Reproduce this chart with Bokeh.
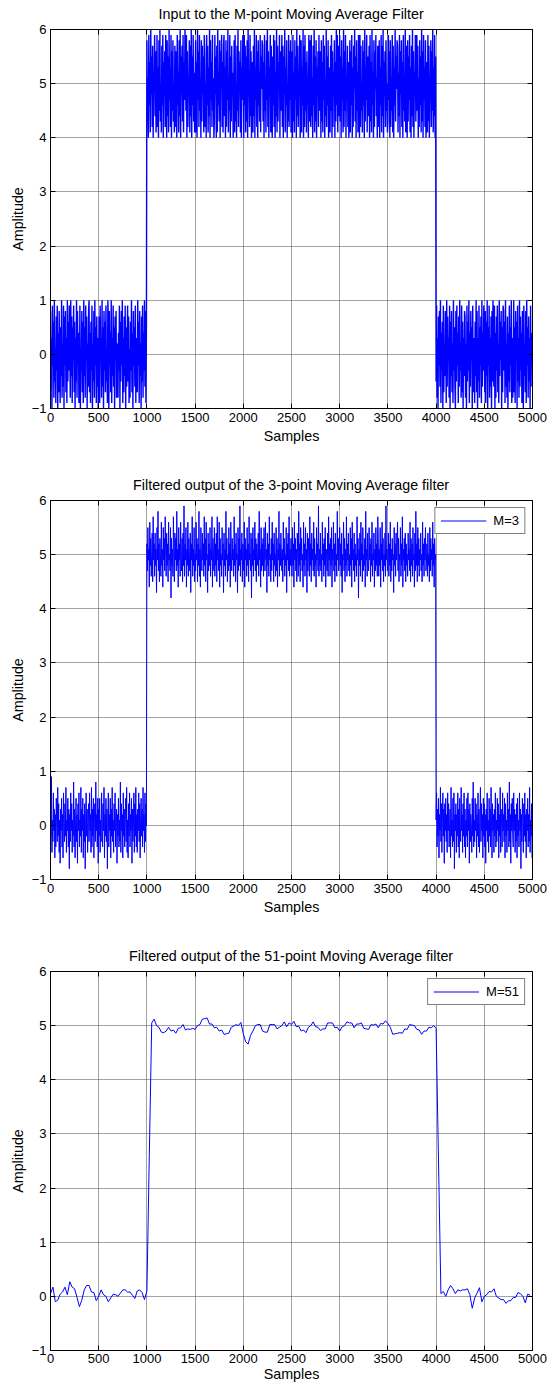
from bokeh.plotting import figure
from bokeh.layouts import column
from bokeh.models import LinearAxis, FixedTicker, Range1d
from bokeh.embed import file_html
from bokeh.resources import INLINE

FONT = "Liberation Sans"

x_ticks = [0, 500, 1000, 1500, 2000, 2500, 3000, 3500, 4000, 4500, 5000]
y_ticks = [-1, 0, 1, 2, 3, 4, 5, 6]
titles = ["Input to the M-point Moving Average Filter",
          "Filtered output of the 3-point Moving Average filter",
          "Filtered output of the 51-point Moving Average filter"]
legend_labels = [None, "M=3", "M=51"]

# ---- Input signal (read every 5 samples) ----
in_low1 = [0.8, -0.6, 0.3, -1.0, 0.9, -0.2, 0.6, -0.8, 1.0, -0.5, 0.1, -0.9, 0.7, -0.3, 0.9, -1.0, 0.4, -0.7, 0.8, -0.1,
           -0.9, 0.5, -0.4, 1.0, -0.8, 0.2, -0.6, 0.9, -1.0, 0.7, -0.2, 0.8, -0.7, 0.3, -0.9, 1.0, -0.5, 0.6, -0.3, 0.9,
           0.2, -0.8, 1.0, -0.4, 0.7, -0.9, 0.5, -0.1, 0.9, -0.7, 0.6, -1.0, 0.3, -0.5, 1.0, -0.8, 0.8, -0.2, 0.4, -0.9,
           -0.6, 0.9, -1.0, 0.1, -0.3, 0.8, -0.7, 0.6, -0.9, 1.0, -0.4, 0.5, -0.8, 0.9, -0.1, 0.7, -1.0, 0.2, -0.6, 0.8,
           1.0, -0.7, 0.4, -0.9, 0.6, -0.3, 0.9, -1.0, 0.2, -0.5, 0.8, -0.8, 1.0, -0.2, 0.5, -0.9, 0.7, -0.6, 0.3, -1.0,
           -0.4, 0.7, -0.9, 0.9, -0.1, 0.3, -0.8, 1.0, -0.6, 0.5, -1.0, 0.8, -0.3, 0.6, -0.7, 0.9, -0.5, 0.1, -0.9, 1.0,
           0.6, -1.0, 0.8, -0.2, 0.4, -0.7, 1.0, -0.9, 0.3, -0.4, 0.9, -0.6, 0.5, -1.0, 0.7, -0.1, 0.8, -0.8, 0.2, -0.5,
           -0.8, 0.4, -0.3, 0.9, -1.0, 0.6, -0.5, 0.8, -0.2, 1.0, -0.9, 0.3, -0.7, 0.7, -0.4, 0.9, -1.0, 0.5, -0.6, 0.2,
           0.9, -0.5, 0.7, -0.9, 0.1, -0.8, 0.6, -0.3, 1.0, -0.7, 0.4, -1.0, 0.8, -0.2, 0.5, -0.6, 0.9, -0.9, 0.3, -0.4,
           -0.7, 1.0, -0.2, 0.6, -0.9, 0.8, -0.4, 0.2, -1.0, 0.7, -0.5, 0.9, -0.8, 0.4, -0.3, 1.0, -0.6, 0.8, -0.9, 0.5]
in_high = [5.8, 4.3, 5.1, 4.0, 5.9, 4.6, 5.4, 4.1, 6.0, 4.8, 5.5, 4.2, 5.7, 4.0, 5.2, 4.9, 5.9, 4.4, 5.6, 4.1,
           4.7, 5.9, 4.2, 5.3, 4.0, 5.8, 4.5, 6.0, 4.3, 5.0, 4.1, 5.7, 4.6, 5.9, 4.0, 5.4, 4.8, 5.6, 4.2, 5.9,
           5.1, 4.0, 5.8, 4.4, 5.5, 4.1, 6.0, 4.7, 5.3, 4.2, 5.9, 4.0, 5.6, 4.5, 5.8, 4.3, 5.0, 4.1, 5.7, 4.9,
           4.2, 5.6, 4.0, 5.9, 4.6, 5.2, 4.1, 5.8, 4.4, 6.0, 4.0, 5.5, 4.8, 5.7, 4.3, 5.9, 4.1, 5.4, 4.7, 6.0,
           5.3, 4.5, 5.9, 4.0, 5.6, 4.2, 5.1, 4.8, 5.8, 4.1, 5.7, 4.4, 6.0, 4.0, 5.5, 4.6, 5.9, 4.3, 5.2, 4.1,
           4.9, 5.8, 4.1, 5.4, 4.0, 6.0, 4.7, 5.6, 4.2, 5.9, 4.5, 5.1, 4.0, 5.8, 4.3, 5.7, 4.8, 5.5, 4.1, 5.9,
           5.6, 4.2, 5.0, 4.0, 5.9, 4.6, 5.7, 4.1, 5.3, 4.4, 6.0, 4.0, 5.8, 4.7, 5.4, 4.2, 5.9, 4.5, 5.1, 4.0,
           4.3, 5.9, 4.8, 5.5, 4.0, 5.7, 4.1, 6.0, 4.6, 5.2, 4.3, 5.8, 4.0, 5.6, 4.9, 5.9, 4.2, 5.4, 4.1, 5.7,
           5.9, 4.4, 5.3, 4.0, 5.8, 4.2, 5.6, 4.7, 6.0, 4.1, 5.1, 4.5, 5.9, 4.0, 5.5, 4.3, 5.7, 4.8, 5.2, 4.0,
           4.6, 5.8, 4.1, 5.9, 4.3, 5.0, 4.0, 5.7, 4.5, 6.0, 4.2, 5.6, 4.9, 5.4, 4.1, 5.8, 4.0, 5.3, 4.7, 5.9,
           5.2, 4.0, 5.9, 4.6, 5.7, 4.1, 5.5, 4.3, 5.8, 4.0, 6.0, 4.8, 5.1, 4.2, 5.9, 4.4, 5.6, 4.0, 5.4, 4.5,
           4.1, 5.7, 4.4, 6.0, 4.0, 5.3, 4.7, 5.9, 4.2, 5.6, 4.0, 5.8, 4.6, 5.2, 4.3, 5.9, 4.1, 5.5, 4.9, 5.8,
           5.7, 4.3, 5.4, 4.0, 5.9, 4.5, 5.1, 4.1, 5.8, 4.7, 6.0, 4.2, 5.6, 4.0, 5.3, 4.8, 5.9, 4.1, 5.7, 4.4,
           4.0, 5.5, 4.6, 5.9, 4.2, 5.8, 4.0, 5.2, 4.4, 6.0, 4.1, 5.7, 4.3, 5.4, 4.9, 5.9, 4.0, 5.6, 4.5, 5.1,
           5.9, 4.2, 5.7, 4.0, 5.5, 4.8, 6.0, 4.1, 5.3, 4.6, 5.8, 4.0, 5.0, 4.3, 5.9, 4.2, 5.6, 4.7, 5.8, 4.1,
           4.5, 5.6, 4.0, 5.9, 4.3, 5.2, 4.1, 5.8, 4.7, 5.5, 4.0, 6.0, 4.4, 5.7, 4.2, 5.1, 4.9, 5.9, 4.0, 5.4,
           5.8, 4.1, 5.3, 4.6, 6.0, 4.0, 5.7, 4.2, 5.9, 4.5, 5.4, 4.1, 5.6, 4.8, 5.0, 4.0, 5.9, 4.3, 5.8, 4.7,
           4.2, 5.9, 4.4, 5.1, 4.0, 5.7, 4.6, 6.0, 4.1, 5.5, 4.3, 5.8, 4.0, 5.3, 4.9, 5.6, 4.2, 5.9, 4.5, 5.2,
           5.6, 4.0, 5.8, 4.3, 5.4, 4.1, 5.9, 4.7, 5.7, 4.0, 5.1, 4.4, 6.0, 4.2, 5.5, 4.6, 5.8, 4.0, 5.3, 4.8,
           4.1, 5.7, 4.5, 5.9, 4.0, 5.6, 4.2, 5.2, 4.8, 5.8, 4.0, 5.4, 4.3, 6.0, 4.6, 5.9, 4.1, 5.7, 4.4, 5.0,
           5.9, 4.3, 5.5, 4.0, 5.8, 4.7, 5.3, 4.1, 6.0, 4.2, 5.6, 4.5, 5.9, 4.0, 5.1, 4.8, 5.7, 4.2, 5.4, 4.0,
           4.4, 5.8, 4.1, 5.6, 4.6, 5.9, 4.0, 5.3, 4.2, 5.7, 4.9, 6.0, 4.3, 5.5, 4.0, 5.8, 4.5, 5.2, 4.1, 5.9,
           5.4, 4.0, 5.9, 4.2, 5.7, 4.5, 5.0, 4.1, 5.8, 4.6, 5.6, 4.0, 6.0, 4.3, 5.3, 4.7, 5.9, 4.1, 5.5, 4.4,
           4.8, 5.7, 4.0, 5.9, 4.3, 5.4, 4.1, 6.0, 4.6, 5.2, 4.0, 5.8, 4.2, 5.6, 4.9, 5.9, 4.4, 5.1, 4.0, 5.7,
           5.5, 4.2, 5.8, 4.0, 5.3, 4.6, 5.9, 4.1, 5.7, 4.4, 6.0, 4.0, 5.4, 4.8, 5.6, 4.2, 5.8, 4.5, 5.0, 4.1,
           4.3, 5.9, 4.7, 5.6, 4.0, 5.8, 4.2, 5.1, 4.5, 5.9, 4.1, 5.7, 4.0, 5.3, 4.6, 6.0, 4.3, 5.5, 4.9, 5.8,
           5.7, 4.1, 5.2, 4.4, 5.9, 4.0, 5.6, 4.8, 5.8, 4.2, 5.4, 4.0, 5.9, 4.5, 5.1, 4.3, 6.0, 4.1, 5.7, 4.6,
           4.0, 5.8, 4.3, 5.5, 4.7, 5.9, 4.1, 5.3, 4.0, 5.7, 4.4, 6.0, 4.2, 5.6, 4.0, 5.2, 4.8, 5.9, 4.3, 5.4,
           5.9, 4.5, 5.7, 4.0, 5.1, 4.2, 5.8, 4.6, 5.5, 4.1, 6.0, 4.3, 5.6, 4.0, 5.9, 4.7, 5.3, 4.2, 5.8, 4.0,
           4.6, 5.4, 4.1, 5.9, 4.3, 5.7, 4.0, 5.0, 4.8, 5.8, 4.2, 5.6, 4.5, 6.0, 4.1, 5.3, 4.4, 5.9, 4.0, 5.5]
in_low2 = [-0.5, 0.9, -0.8, 0.3, -1.0, 0.7, -0.2, 0.8, -0.6, 1.0, -0.9, 0.4, -0.3, 0.6, -1.0, 0.9, -0.7, 0.2, -0.4, 0.8,
           0.5, -0.9, 1.0, -0.6, 0.7, -0.1, 0.3, -0.8, 0.9, -1.0, 0.6, -0.4, 0.8, -0.7, 0.2, -0.9, 1.0, -0.3, 0.5, -0.6,
           -1.0, 0.8, -0.5, 0.9, -0.2, 0.4, -0.9, 0.7, -0.6, 1.0, -0.3, 0.1, -0.8, 0.9, -0.7, 0.6, -1.0, 0.3, -0.4, 0.8,
           0.7, -0.8, 0.2, -1.0, 0.9, -0.5, 0.6, -0.3, 1.0, -0.9, 0.4, -0.6, 0.8, -0.1, 0.5, -1.0, 0.9, -0.7, 0.3, -0.2,
           -0.9, 0.6, -0.4, 1.0, -0.7, 0.8, -1.0, 0.3, -0.5, 0.9, -0.8, 0.5, -0.2, 0.7, -0.9, 1.0, -0.6, 0.4, -0.3, 0.9,
           0.1, -0.7, 0.8, -0.9, 0.6, -0.4, 1.0, -1.0, 0.5, -0.2, 0.9, -0.8, 0.3, -0.6, 0.7, -1.0, 0.8, -0.5, 1.0, -0.3,
           -0.6, 0.9, -1.0, 0.4, -0.8, 0.7, -0.3, 0.9, -0.7, 0.2, -0.9, 1.0, -0.4, 0.6, -0.1, 0.8, -1.0, 0.5, -0.7, 0.9,
           0.8, -0.3, 0.6, -0.9, 1.0, -0.6, 0.2, -0.8, 0.7, -1.0, 0.4, -0.5, 0.9, -0.7, 0.5, -0.2, 1.0, -0.9, 0.3, -0.8,
           -0.4, 1.0, -0.7, 0.5, -0.9, 0.8, -0.1, 0.6, -1.0, 0.9, -0.5, 0.3, -0.8, 1.0, -0.6, 0.7, -0.3, 0.4, -0.9, 0.8,
           0.6, -1.0, 0.9, -0.4, 0.2, -0.7, 0.8, -0.9, 1.0, -0.2, 0.5, -0.8, 0.7, -0.5, 0.3, -1.0, 0.9, -0.6, 0.4, -0.1]

# ---- 3-point moving average output (read every 5 samples) ----
m3_low1 = [0.4, -0.2, 0.9, -0.5, 0.1, -0.3, 0.6, -0.1, 0.3, -0.6, 0.2, -0.4, 0.5, 0.0, -0.3, 0.7, -0.2, 0.4, -0.5, 0.1,
           -0.7, 0.3, -0.1, 0.5, -0.4, 0.2, -0.6, 0.6, 0.0, -0.3, 0.4, -0.2, 0.7, -0.5, 0.1, -0.1, 0.5, -0.4, 0.3, -0.8,
           0.2, -0.3, 0.6, -0.1, 0.4, -0.5, 0.1, -0.2, 0.8, -0.4, 0.3, -0.6, 0.0, 0.5, -0.3, 0.2, -0.7, 0.4, -0.1, 0.6,
           -0.4, 0.1, -0.2, 0.7, -0.5, 0.3, -0.1, 0.5, -0.6, 0.2, -0.3, 0.4, -0.8, 0.1, 0.6, -0.2, 0.3, -0.5, 0.0, 0.4,
           -0.3, 0.6, -0.1, 0.2, -0.5, 0.7, -0.4, 0.3, -0.2, 0.5, -0.6, 0.1, 0.4, -0.3, 0.8, -0.1, 0.2, -0.4, 0.5, -0.7,
           0.3, -0.2, 0.5, -0.5, 0.1, -0.3, 0.6, 0.0, -0.4, 0.4, -0.1, 0.7, -0.6, 0.2, -0.2, 0.5, -0.3, 0.3, -0.8, 0.1,
           0.6, -0.4, 0.2, -0.1, 0.5, -0.6, 0.3, -0.2, 0.7, -0.3, 0.1, -0.5, 0.4, -0.1, 0.6, -0.4, 0.0, 0.3, -0.7, 0.2,
           -0.2, 0.5, -0.4, 0.1, -0.3, 0.8, -0.5, 0.4, -0.1, 0.2, -0.6, 0.6, -0.2, 0.3, -0.4, 0.1, 0.5, -0.3, 0.7, -0.5,
           0.1, -0.6, 0.4, -0.2, 0.6, -0.4, 0.2, -0.1, 0.5, -0.7, 0.3, -0.3, 0.0, 0.6, -0.5, 0.4, -0.2, 0.7, -0.4, 0.2,
           -0.5, 0.3, -0.1, 0.6, -0.3, 0.4, -0.6, 0.1, 0.5, -0.2, 0.3, -0.4, 0.7, -0.1, 0.2, -0.5, 0.6, -0.3, 0.4, 0.0]
m3_high = [5.2, 4.7, 5.5, 4.9, 5.1, 4.4, 5.6, 4.8, 5.3, 4.6, 5.0, 5.4, 4.5, 5.7, 4.9, 5.2, 4.6, 5.4, 4.8, 5.1,
           4.3, 5.5, 4.9, 5.8, 4.7, 5.2, 4.5, 5.3, 5.0, 4.6, 5.6, 4.8, 5.1, 4.4, 5.5, 4.9, 5.3, 4.7, 5.7, 5.0,
           4.6, 5.4, 4.8, 5.2, 4.5, 5.6, 4.9, 5.0, 4.7, 5.5, 4.2, 5.3, 4.8, 5.1, 4.6, 5.7, 5.0, 4.5, 5.4, 4.9,
           5.3, 4.7, 5.8, 4.8, 5.1, 4.4, 5.5, 4.9, 5.2, 4.6, 5.6, 5.0, 4.7, 5.3, 4.5, 5.4, 4.8, 5.9, 4.6, 5.2,
           4.9, 5.5, 4.4, 5.1, 4.8, 5.6, 4.6, 5.3, 5.0, 4.7, 5.4, 4.3, 5.2, 4.9, 5.7, 4.6, 5.1, 4.8, 5.5, 4.5,
           5.0, 4.7, 5.6, 4.9, 5.3, 4.5, 5.2, 4.8, 5.8, 4.6, 5.1, 4.4, 5.5, 5.0, 4.7, 5.4, 4.9, 5.2, 4.6, 5.7,
           4.8, 5.3, 4.5, 5.6, 4.9, 5.0, 4.3, 5.4, 4.7, 5.2, 4.8, 5.5, 4.6, 5.1, 4.9, 5.7, 4.4, 5.3, 5.0, 4.7,
           5.5, 4.6, 5.2, 4.8, 5.4, 4.5, 5.7, 4.9, 5.1, 4.7, 5.6, 4.4, 5.3, 4.8, 5.0, 4.6, 5.5, 4.9, 5.2, 4.3,
           5.4, 4.8, 5.1, 4.6, 5.8, 4.9, 5.3, 4.5, 5.0, 4.7, 5.5, 4.8, 5.2, 4.4, 5.6, 5.0, 4.7, 5.3, 4.9, 5.1,
           4.6, 5.7, 4.8, 5.2, 4.5, 5.4, 4.9, 5.0, 4.3, 5.5, 4.7, 5.3, 4.8, 5.9, 4.6, 5.1, 4.9, 5.4, 4.5, 5.2,
           5.0, 4.7, 5.6, 4.4, 5.3, 4.9, 5.1, 4.6, 5.5, 4.8, 5.2, 4.5, 5.7, 4.9, 5.0, 4.7, 5.4, 4.2, 5.3, 4.8,
           5.5, 4.6, 5.1, 4.9, 5.6, 4.7, 5.3, 4.5, 5.2, 4.8, 5.0, 5.4, 4.6, 5.8, 4.9, 5.1, 4.4, 5.5, 4.7, 5.2,
           4.8, 5.3, 4.6, 5.5, 5.0, 4.7, 5.6, 4.9, 5.1, 4.3, 5.4, 4.8, 5.2, 4.6, 5.7, 4.9, 5.0, 4.5, 5.3, 4.7,
           5.6, 4.9, 5.2, 4.5, 5.4, 4.8, 5.0, 4.6, 5.5, 4.7, 5.3, 4.4, 5.1, 4.9, 5.8, 4.6, 5.2, 4.8, 5.4, 5.0,
           4.7, 5.1, 4.5, 5.6, 4.9, 5.3, 4.6, 5.0, 4.8, 5.5, 4.3, 5.2, 4.9, 5.4, 4.7, 5.7, 4.6, 5.1, 4.8, 5.3,
           5.0, 4.6, 5.5, 4.8, 5.2, 4.4, 5.6, 4.9, 5.3, 4.7, 5.1, 4.5, 5.4, 5.0, 4.6, 5.8, 4.8, 5.2, 4.5, 5.5,
           4.9, 5.3, 4.7, 5.0, 4.4, 5.6, 4.8, 5.2, 4.6, 5.5, 4.9, 5.1, 4.3, 5.4, 4.7, 5.3, 5.0, 4.6, 5.7, 4.8,
           5.2, 4.5, 5.4, 4.9, 5.1, 4.7, 5.6, 4.6, 5.3, 4.8, 5.0, 4.4, 5.5, 4.9, 5.2, 4.7, 5.9, 4.6, 5.1, 4.8,
           5.4, 4.7, 5.0, 4.5, 5.6, 4.9, 5.2, 4.6, 5.3, 4.8, 5.5, 4.4, 5.1, 5.0, 4.7, 5.4, 4.6, 5.7, 4.9, 5.2,
           4.6, 5.3, 4.8, 5.5, 4.4, 5.1, 4.9, 5.6, 4.7, 5.2, 4.5, 5.4, 4.8, 5.0, 4.6, 5.8, 4.9, 5.3, 4.7, 5.1,
           5.5, 4.8, 5.2, 4.6, 5.4, 4.3, 5.0, 4.9, 5.6, 4.7, 5.3, 4.5, 5.1, 4.8, 5.7, 4.6, 5.2, 4.9, 5.4, 4.7,
           5.0, 4.6, 5.5, 4.8, 5.3, 4.4, 5.6, 4.9, 5.1, 4.7, 5.4, 4.5, 5.2, 4.8, 5.0, 4.6, 5.7, 4.9, 5.3, 4.2,
           5.1, 4.8, 5.4, 4.6, 5.6, 4.9, 5.2, 4.5, 5.5, 4.7, 5.0, 4.8, 5.3, 4.4, 5.8, 4.9, 5.1, 4.6, 5.4, 4.8,
           4.7, 5.5, 4.9, 5.2, 4.5, 5.3, 4.8, 5.6, 4.6, 5.0, 4.9, 5.4, 4.4, 5.1, 4.7, 5.5, 4.8, 5.2, 4.6, 5.7,
           5.3, 4.6, 5.1, 4.8, 5.5, 4.4, 5.2, 4.9, 5.6, 4.7, 5.3, 4.5, 5.0, 4.8, 5.4, 4.6, 5.9, 4.9, 5.1, 4.7,
           4.9, 5.4, 4.6, 5.2, 4.8, 5.6, 4.5, 5.1, 4.7, 5.3, 4.9, 5.0, 4.3, 5.5, 4.8, 5.2, 4.6, 5.4, 4.9, 5.1,
           5.6, 4.7, 5.3, 4.5, 5.0, 4.9, 5.5, 4.6, 5.2, 4.8, 5.7, 4.4, 5.1, 4.9, 5.3, 4.7, 5.4, 4.5, 5.2, 4.8,
           5.0, 4.6, 5.4, 4.9, 5.1, 4.7, 5.6, 4.5, 5.3, 4.8, 5.2, 4.6, 5.5, 4.9, 5.0, 4.4, 5.4, 4.7, 5.8, 4.8,
           5.2, 4.5, 5.5, 4.8, 5.3, 4.6, 5.1, 4.9, 5.4, 4.7, 5.0, 4.5, 5.6, 4.8, 5.2, 4.6, 5.3, 4.9, 5.5, 4.7,
           4.9, 5.2, 4.6, 5.4, 4.8, 5.0, 4.5, 5.5, 4.7, 5.3, 4.9, 5.1, 4.6, 5.6, 4.8, 5.2, 4.4, 5.3, 4.9, 5.0]
m3_low2 = [0.1, 0.6, -0.4, 0.3, -0.2, 0.5, -0.6, 0.2, -0.1, 0.7, -0.3, 0.4, -0.5, 0.1, 0.6, -0.2, 0.3, -0.7, 0.4, -0.1,
           0.5, -0.3, 0.2, -0.5, 0.6, -0.1, 0.4, -0.4, 0.0, 0.3, -0.6, 0.7, -0.2, 0.1, -0.4, 0.5, -0.3, 0.6, -0.8, 0.2,
           -0.1, 0.4, -0.5, 0.2, -0.2, 0.6, -0.4, 0.3, -0.6, 0.5, 0.0, -0.3, 0.7, -0.1, 0.2, -0.5, 0.4, -0.2, 0.6, -0.4,
           0.3, -0.6, 0.1, -0.2, 0.5, -0.4, 0.6, -0.1, 0.3, -0.7, 0.4, -0.3, 0.2, 0.0, -0.5, 0.5, -0.2, 0.8, -0.4, 0.1,
           -0.3, 0.5, -0.1, 0.4, -0.6, 0.2, -0.2, 0.6, -0.4, 0.3, -0.5, 0.1, 0.7, -0.3, 0.4, -0.1, 0.2, -0.6, 0.5, -0.2,
           0.4, -0.4, 0.2, -0.7, 0.3, -0.1, 0.6, -0.3, 0.1, -0.5, 0.5, -0.2, 0.3, -0.4, 0.7, 0.0, -0.6, 0.4, -0.1, 0.2,
           -0.5, 0.3, -0.2, 0.6, -0.4, 0.1, -0.3, 0.5, -0.1, 0.4, -0.6, 0.2, -0.2, 0.7, -0.5, 0.3, 0.0, -0.4, 0.6, -0.1,
           0.2, -0.3, 0.5, -0.6, 0.4, -0.2, 0.1, -0.5, 0.6, -0.1, 0.3, -0.4, 0.8, -0.3, 0.2, -0.7, 0.4, -0.1, 0.5, -0.2,
           -0.4, 0.6, -0.1, 0.3, -0.5, 0.2, -0.3, 0.4, -0.6, 0.5, -0.2, 0.1, -0.4, 0.6, -0.1, 0.3, -0.8, 0.2, -0.3, 0.5,
           0.1, -0.5, 0.4, -0.2, 0.6, -0.3, 0.2, -0.6, 0.3, -0.1, 0.5, -0.4, 0.2, -0.3, 0.7, -0.5, 0.1, -0.2, 0.4, -0.6]

# ---- 51-point moving average output (read every 25 samples) ----
m51_low1 = [0.05, 0.17, -0.10, -0.07, 0.04, 0.08, 0.17, 0.03, 0.27, 0.17,
            0.14, -0.02, -0.19, -0.07, 0.12, 0.20, 0.20, 0.08, 0.07, -0.08,
            0.00, 0.12, 0.03, 0.00, -0.10, -0.03, 0.04, 0.03, 0.00, 0.06,
            0.12, 0.12, 0.08, 0.08, 0.02, -0.04, 0.10, 0.12, 0.07, -0.06]
m51_high = [0.10, 2.60, 5.05, 5.12, 5.00, 4.97, 4.88, 4.87, 4.90, 4.97,
            4.90, 4.92, 4.86, 4.95, 4.96, 5.02, 4.92, 4.94, 4.93, 4.95,
            4.93, 5.00, 5.02, 5.12, 5.13, 5.14, 5.03, 5.03, 4.96, 4.97,
            4.90, 4.92, 4.84, 4.85, 4.86, 4.97, 4.99, 5.02, 5.00, 5.06,
            4.85, 4.70, 4.66, 4.82, 4.90, 5.00, 5.02, 5.02, 4.90, 4.88,
            4.88, 5.02, 5.02, 5.02, 4.94, 4.97, 5.00, 5.07, 4.98, 5.05,
            5.02, 5.08, 4.98, 4.99, 4.90, 4.92, 4.87, 4.97, 5.00, 5.07,
            4.98, 4.97, 4.91, 4.94, 4.94, 5.05, 5.05, 5.05, 4.96, 4.97,
            4.90, 4.98, 5.00, 5.07, 5.05, 5.05, 4.96, 5.03, 5.03, 5.05,
            4.95, 4.94, 4.93, 5.02, 5.01, 5.03, 4.96, 5.04, 5.03, 5.09,
            5.04, 4.97, 4.84, 4.85, 4.86, 4.87, 4.86, 4.94, 4.93, 5.02,
            5.01, 5.00, 4.93, 4.92, 4.84, 4.90, 4.90, 4.97, 4.96, 5.00]
m51_low2 = [4.95, 2.50, 0.05, 0.09, 0.00, 0.12, 0.20, 0.14, 0.05, 0.12,
            0.10, 0.12, 0.12, 0.14, 0.03, -0.22, -0.03, 0.06, 0.16, -0.10,
            0.00, 0.03, 0.09, 0.08, 0.14, 0.00, -0.03, -0.06, -0.06, -0.13,
            -0.08, -0.08, -0.02, -0.02, 0.07, 0.05, 0.00, -0.12, 0.04, 0.02]


def sample_index(start, step, values):
    return [start + step * i for i in range(len(values))]


def series(step, low1, high, low2):
    xs = sample_index(0, step, low1) + sample_index(1000, step, high) + sample_index(4000, step, low2)
    return xs, low1 + high + low2


def style_axis(ax, ticks, show_labels):
    ax.ticker = FixedTicker(ticks=ticks)
    ax.axis_line_color = "black"
    ax.major_tick_line_color = "black"
    ax.major_tick_in = 5
    ax.major_tick_out = 0
    ax.minor_tick_line_color = None
    ax.major_label_text_font = FONT
    if show_labels:
        ax.major_label_text_color = "black"
        ax.major_label_text_font_size = "13px"
        ax.major_label_standoff = 4
    else:
        ax.major_label_text_color = None
        ax.major_label_text_font_size = "1px"
        ax.major_label_standoff = 0


def make_panel(title, xs, ys, label, bottom, xtick_standoff, xlabel_standoff, lw):
    p = figure(frame_width=482, frame_height=379,
               min_border_left=50, min_border_right=16, min_border_top=29,
               min_border_bottom=bottom,
               x_range=Range1d(0, 5000), y_range=Range1d(-1, 6),
               output_backend="svg", toolbar_location=None,
               background_fill_color="white", border_fill_color="white",
               outline_line_color="black", outline_line_width=1)
    p.title.text = title
    p.title.align = "center"
    p.title.vertical_align = "top"
    p.title.text_font = FONT
    p.title.text_font_size = "14.3px"
    p.title.text_font_style = "normal"
    p.title.text_color = "black"
    p.title.standoff = 11

    if label:
        p.line(xs, ys, line_color="#0000ff", line_width=lw, legend_label=label)
    else:
        p.line(xs, ys, line_color="#0000ff", line_width=lw)

    xa = p.below[0]
    ya = p.left[0]
    style_axis(xa, x_ticks, True)
    style_axis(ya, y_ticks, True)
    xa.major_label_standoff = xtick_standoff
    xa.axis_label = "Samples"
    ya.axis_label = "Amplitude"
    for ax in (xa, ya):
        ax.axis_label_text_font = FONT
        ax.axis_label_text_font_size = "14.3px"
        ax.axis_label_text_font_style = "normal"
        ax.axis_label_text_color = "black"
    xa.axis_label_standoff = xlabel_standoff
    ya.axis_label_standoff = 3

    # box ticks on the top and right edges (no labels)
    top = LinearAxis()
    right = LinearAxis()
    style_axis(top, x_ticks, False)
    style_axis(right, y_ticks, False)
    p.add_layout(top, "above")
    p.add_layout(right, "right")

    p.xgrid.ticker = FixedTicker(ticks=x_ticks)
    p.ygrid.ticker = FixedTicker(ticks=y_ticks)
    p.grid.grid_line_color = "#444444"
    p.grid.grid_line_dash = "1 1"
    p.grid.grid_line_width = 1

    if label:
        lg = p.legend[0]
        lg.location = "top_right"
        lg.margin = 7
        lg.padding = 5
        lg.spacing = 0
        lg.glyph_width = 46
        lg.glyph_height = 15
        lg.label_standoff = 7
        lg.label_text_font = FONT
        lg.label_text_font_size = "13px"
        lg.label_text_color = "black"
        lg.border_line_color = "black"
        lg.border_line_width = 1
        lg.background_fill_color = "white"
        lg.background_fill_alpha = 1
    return p


x1, y1 = series(5, in_low1, in_high, in_low2)
x2, y2 = series(5, m3_low1, m3_high, m3_low2)
x3, y3 = series(25, m51_low1, m51_high, m51_low2)

p1 = make_panel(titles[0], x1, y1, legend_labels[0], 63, 4, 3, 1.4)
p2 = make_panel(titles[1], x2, y2, legend_labels[1], 63, 4, 3, 1)
p3 = make_panel(titles[2], x3, y3, legend_labels[2], 36, 3, 0, 1)

layout = column(p1, p2, p3, spacing=0)
open("out.html", "w").write(file_html(layout, INLINE))
